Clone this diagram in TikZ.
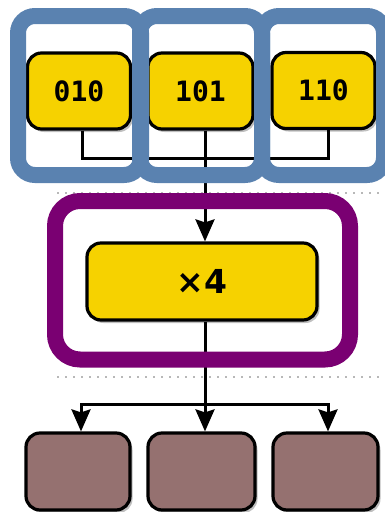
\documentclass[tikz,border=0pt]{standalone}
\usepackage{fontspec}
\setmainfont{DejaVu Sans}
\newfontfamily\codefont{DejaVu Sans Mono}
\usetikzlibrary{arrows.meta,shadows}
\definecolor{groupblue}{HTML}{5A82B0}
\definecolor{grouppurple}{HTML}{7A0072}
\definecolor{boxyellow}{HTML}{F6D200}
\definecolor{boxbrown}{HTML}{957170}
\definecolor{sepgray}{HTML}{B8B8B8}
\tikzset{
  softshadow/.style={drop shadow={shadow xshift=2.5pt,shadow yshift=-3pt,opacity=0.25,fill=black}},
  bitbox/.style={draw=black,line width=3.2pt,fill=boxyellow,rounded corners=14pt,
    minimum width=103pt,minimum height=76pt,inner sep=0pt,softshadow,
    font=\codefont\bfseries\fontsize{28}{28}\selectfont},
  opbox/.style={bitbox,minimum width=230pt,minimum height=77pt,
    font=\bfseries\fontsize{33}{33}\selectfont},
  outbox/.style={draw=black,line width=3.2pt,fill=boxbrown,rounded corners=14pt,
    minimum width=105pt,minimum height=77pt,inner sep=0pt,softshadow},
  wire/.style={draw=black,line width=3pt},
  arr/.style={wire,-{Stealth[length=22pt,width=19pt,inset=3pt]}},
  groupframe/.style={line width=16pt,rounded corners=17pt},
  separator/.style={draw=sepgray,line width=2pt,dash pattern=on 2pt off 6pt}
}
\begin{document}
\begin{tikzpicture}[x=1pt,y=-1pt]
\useasboundingbox (0,0) rectangle (385,512);
\clip (0,0) rectangle (385,512);

% dotted stage separators
\draw[separator] (57,193) -- (385,193);
\draw[separator] (57,377) -- (385,377);

% input words
\node[bitbox] (y1) at (79,91) {010};
\node[bitbox,minimum width=105pt] (y2) at (200.5,91) {101};
\node[bitbox] (y3) at (323.5,90.5) {110};

% multiply stage
\node[opbox] (x4) at (202,281.5) {×4};

% outputs
\node[outbox,minimum width=104pt] (b1) at (78,471.5) {};
\node[outbox,minimum width=107pt] (b2) at (201.5,471.5) {};
\node[outbox] (b3) at (325.5,471.5) {};

% merge of the inputs
\coordinate (join) at (205,158);
\draw[wire] ([xshift=3pt]y1.south) |- (join) -| ([xshift=4.5pt]y3.south);
\draw[wire] ([xshift=4.5pt]y2.south) -- (join);
\draw[arr] (join) -- ([xshift=3pt]x4.north);

% fan-out to the outputs
\coordinate (split) at (205,404);
\draw[wire] ([xshift=3pt]x4.south) -- (split);
\draw[arr] (split) -| ([xshift=3pt]b1.north);
\draw[arr] (split) -- ([xshift=3.5pt]b2.north);
\draw[arr] (split) -| ([xshift=2.5pt]b3.north);

% group frames
\draw[groupframe,draw=groupblue] (18,16) rectangle (141,175);
\draw[groupframe,draw=groupblue] (140,16) rectangle (262,175);
\draw[groupframe,draw=groupblue] (262,16) rectangle (384,175);
\draw[groupframe,draw=grouppurple,rounded corners=25pt] (55,201) rectangle (350,359.5);
\end{tikzpicture}
\end{document}
